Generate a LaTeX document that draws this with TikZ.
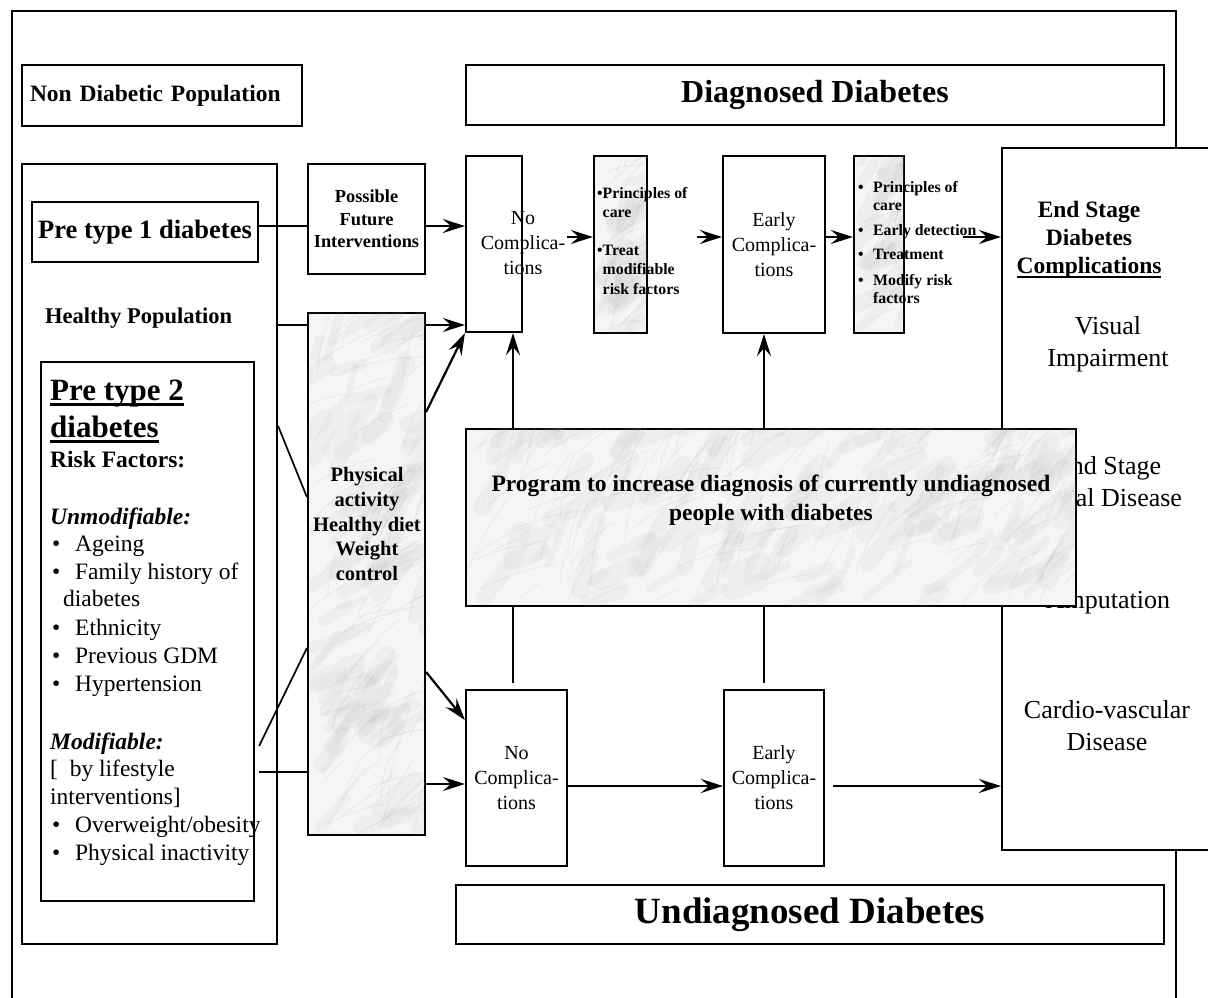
\documentclass[tikz,border=0pt]{standalone}
\usepackage{fontspec}
\setmainfont{Liberation Serif}
\usetikzlibrary{arrows.meta,calc}

\newcommand\fsz[2]{\fontsize{#1}{#2}\selectfont}
\newcommand\ulbold[1]{\setbox0\hbox{#1}\rlap{\rule[-0.2em]{\wd0}{0.09em}}\box0}
% soft grey clouds and veins clipped into a node, to imitate the marble fill
\newcommand\marbleveins[2]{%
  \begin{scope}
    \clip ([shift={(1pt,-1pt)}]#1.north west) rectangle ([shift={(-1pt,1pt)}]#1.south east);
    \foreach \k in {1,...,#2} {
      \pgfmathsetmacro\vx{rnd}
      \pgfmathsetmacro\vy{rnd}
      \pgfmathsetmacro\vang{15+60*rnd}
      \pgfmathsetlengthmacro\vlen{15pt+45pt*rnd}
      \pgfmathsetlengthmacro\vwd{6pt+14pt*rnd}
      \draw[gray!80, line width=\vwd, opacity=0.07, line cap=round]
        let \p1=(#1.south west), \p2=(#1.north east) in
        ({\x1+\vx*(\x2-\x1)},{\y1+\vy*(\y2-\y1)}) -- +(\vang:\vlen);
    }
    \foreach \k in {1,...,#2} {
      \pgfmathsetmacro\vx{rnd}
      \pgfmathsetmacro\vy{rnd}
      \pgfmathsetmacro\vang{10+70*rnd}
      \pgfmathsetlengthmacro\vlen{25pt+60pt*rnd}
      \draw[gray, line width=1.2pt, opacity=0.08, line cap=round]
        let \p1=(#1.south west), \p2=(#1.north east) in
        ({\x1+\vx*(\x2-\x1)},{\y1+\vy*(\y2-\y1)}) to[bend left=8] +(\vang:\vlen);
    }
  \end{scope}}

\tikzset{
  box/.style={draw, line width=2.2pt, fill=white, inner sep=0pt, align=center},
  marblebox/.style={box, fill=gray!8},
  link/.style={line width=2.2pt},
  thinlink/.style={line width=1.7pt},
  arr/.style={link, -{Stealth[length=22pt, width=14pt, inset=8pt]}},
  listtext/.style={font=\fsz{23.5}{28}, inner sep=0pt, anchor=base west},
}

\begin{document}
\begin{tikzpicture}[x=1pt, y=-1pt]
  \pgfmathsetseed{11}
  \useasboundingbox (0,0) rectangle (1208,997);
  % Outer frame (runs on below the page)
  \draw[line width=2.2pt] (12,11) rectangle (1176,1020);

  % Headings
  \node[box, minimum width=280, minimum height=61, text width=264, align=left,
    font=\fsz{23.5}{28}\bfseries] (nondiab) at (162,95.5) {Non Diabetic Population};
  \node[box, minimum width=698, minimum height=60, font=\fsz{32}{38}\bfseries]
    (diag) at (815,95) {Diagnosed Diabetes};

  % Left column: population
  \node[box, minimum width=255, minimum height=780] (leftbox) at (149.5,554) {};
  \node[box, minimum width=226, minimum height=60, font=\fsz{26.5}{32}\bfseries]
    (pre1) at (145,232) {Pre type 1 diabetes};
  \node[listtext, font=\fsz{22.5}{27}\bfseries] (healthy) at (45,323.5) {Healthy Population};
  \node[box, minimum width=213, minimum height=539] (pre2) at (147.5,631.5) {};
  \node[listtext, font=\fsz{31}{37}\bfseries] (pre2a) at (50,400) {\ulbold{Pre type 2}};
  \node[listtext, font=\fsz{31}{37}\bfseries] (pre2b) at (50,437) {\ulbold{diabetes}};
  \node[listtext, font=\fsz{23.5}{28}\bfseries] (riskhead) at (50,467) {Risk Factors:};
  \node[listtext, font=\fsz{23.5}{28}\bfseries\itshape] (unmod) at (50,524) {Unmodifiable:};
  \foreach \yy/\txt in {551/Ageing, 579/Family history of, 635/Ethnicity,
      663/Previous GDM, 691/Hypertension, 832/Overweight\slash obesity,
      860/Physical inactivity}
    \node[listtext] (rf\yy) at (52,\yy) {\makebox[23pt][l]{\textbullet}\txt};
  \node[listtext] (famcont) at (63,606) {diabetes};
  \node[listtext, font=\fsz{23.5}{28}\bfseries\itshape] (modif) at (50,749) {Modifiable:};
  \node[listtext] (lifestyle) at (50,776) {[\enspace by lifestyle};
  \node[listtext] (interv) at (50,804) {interventions]};

  % Interventions column
  \node[box, minimum width=117, minimum height=110, font=\fsz{18.4}{22.5}\bfseries]
    (possible) at (366.5,219) {Possible\\Future\\Interventions};
  \node[marblebox, minimum width=117, minimum height=522] (physical) at (366.5,574) {};
  \marbleveins{physical}{90}
  \node[font=\fsz{20.5}{24.75}\bfseries, align=center, inner sep=0pt]
    (physicaltxt) at (367,524) {Physical\\activity\\Healthy diet\\Weight\\control};

  % Diagnosed row
  \node[box, minimum width=56, minimum height=176] (nocomp1) at (494,244) {};
  \node[font=\fsz{20}{25}, align=center, inner sep=0pt]
    (nocomp1txt) at (523,243) {No\\Complica-\\tions};
  \node[marblebox, minimum width=53, minimum height=177] (princ1) at (620.5,244.5) {};
  \marbleveins{princ1}{25}
  \node[font=\fsz{15.8}{19.5}\bfseries, align=left, inner sep=0pt, anchor=north west]
    (princ1txt) at (597,187)
    {\textbullet Principles of\\\phantom{\textbullet}care\\[18pt]
     \textbullet Treat\\\phantom{\textbullet}modifiable\\\phantom{\textbullet}risk factors};
  \node[box, minimum width=102, minimum height=177, font=\fsz{20}{25}]
    (early1) at (774,244.5) {Early\\Complica-\\tions};
  \node[marblebox, minimum width=50, minimum height=177] (princ2) at (879,244.5) {};
  \marbleveins{princ2}{25}
  \node[font=\fsz{15.8}{18.5}\bfseries, align=left, inner sep=0pt, anchor=north west]
    (princ2txt) at (858,181)
    {\makebox[15pt][l]{\textbullet}Principles of\\\hspace*{15pt}care\\[6pt]
     \makebox[15pt][l]{\textbullet}Early detection\\[6pt]
     \makebox[15pt][l]{\textbullet}Treatment\\[7pt]
     \makebox[15pt][l]{\textbullet}Modify risk\\\hspace*{15pt}factors};

  % End stage complications
  \node[box, minimum width=238, minimum height=702] (endstage) at (1121,499) {};
  \node[font=\fsz{23.5}{28}\bfseries, align=center, inner sep=0pt]
    (esheading) at (1089,240) {End Stage\\Diabetes\\\ulbold{Complications}};
  \node[font=\fsz{26}{32}, align=center, inner sep=0pt] (visual) at (1108,344) {Visual\\Impairment};
  \node[font=\fsz{26}{32}, align=center, inner sep=0pt] (renal) at (1108,482) {End Stage\\Renal Disease};
  \node[font=\fsz{26}{32}, align=center, inner sep=0pt] (amput) at (1108,603) {Amputation};
  \node[font=\fsz{26}{32}, align=center, inner sep=0pt] (cardio) at (1107,726) {Cardio-vascular\\Disease};

  % Undiagnosed row
  \node[box, minimum width=101, minimum height=176, font=\fsz{20}{25}]
    (nocomp2) at (516.5,778) {No\\Complica-\\tions};
  \node[box, minimum width=100, minimum height=176, font=\fsz{20}{25}]
    (early2) at (774,778) {Early\\Complica-\\tions};
  \node[box, minimum width=708, minimum height=59, font=\fsz{37}{44}\bfseries]
    (undiag) at (810,914.5) {Undiagnosed Diabetes};

  % Levels and columns of the connectors
  \coordinate (yPre) at (0,226);
  \coordinate (yDiag) at (0,237);
  \coordinate (yHealthy) at (0,325);
  \coordinate (yUpOut) at (0,412);
  \coordinate (yPopOut) at (0,426);
  \coordinate (yPhysUp) at (0,497);
  \coordinate (yPhysLo) at (0,648);
  \coordinate (yDownOut) at (0,672);
  \coordinate (yDownIn) at (0,720);
  \coordinate (yModA) at (0,746);
  \coordinate (yModB) at (0,772);
  \coordinate (yLife) at (0,784);
  \coordinate (yUndiag) at (0,786);
  \coordinate (colNo) at (513,0);
  \coordinate (colEarly) at (764,0);

  % Top flow
  \draw[link] (pre1.east |- yPre) -- (possible.west |- yPre);
  \draw[arr] (possible.east |- yPre) -- (nocomp1.west |- yPre);
  \draw[arr] (nocomp1.east |- yDiag) ++(44,0) -- (princ1.west |- yDiag);
  \draw[arr] (princ1.east |- yDiag) ++(49,0) -- (early1.west |- yDiag);
  \draw[arr] (early1.east |- yDiag) -- (princ2.west |- yDiag);
  \draw[arr] (princ2.east |- yDiag) ++(58,0) -- (endstage.west |- yDiag);
  % Healthy population and lifestyle
  \draw[link] (leftbox.east |- yHealthy) -- (physical.west |- yHealthy);
  \draw[arr] (physical.east |- yHealthy) -- (nocomp1.west |- yHealthy);
  \draw[arr] (physical.east |- yUpOut) -- (nocomp1.south west);
  \draw[thinlink] (leftbox.east |- yPopOut) -- (physical.west |- yPhysUp);
  \draw[thinlink] (pre2.east |- yModA) ++(4,0) -- (physical.west |- yPhysLo);
  \draw[link] (pre2.east |- yModB) ++(4,0) -- (physical.west |- yModB);
  \draw[arr] (physical.east |- yDownOut) -- (nocomp2.west |- yDownIn);
  \draw[arr] (physical.east |- yLife) -- (nocomp2.west |- yLife);
  % Bottom flow
  \draw[arr] (nocomp2.east |- yUndiag) -- (early2.west |- yUndiag);
  \draw[arr] (early2.east |- yUndiag) ++(8,0) -- (endstage.west |- yUndiag);
  % Diagnosis arrows, passing behind the program box
  \draw[arr] (colNo |- nocomp2.north) ++(0,-6) -- (colNo |- nocomp1.south);
  \draw[arr] (colEarly |- early2.north) ++(0,-6) -- (colEarly |- early1.south);

  % Screening program
  \node[marblebox, minimum width=610, minimum height=177] (program) at (771,517.5) {};
  \marbleveins{program}{150}
  \node[font=\fsz{23.5}{29}\bfseries, align=center, inner sep=0pt] (programtxt) at (771,500)
    {Program to increase diagnosis of currently undiagnosed\\people with diabetes};
\end{tikzpicture}
\end{document}
